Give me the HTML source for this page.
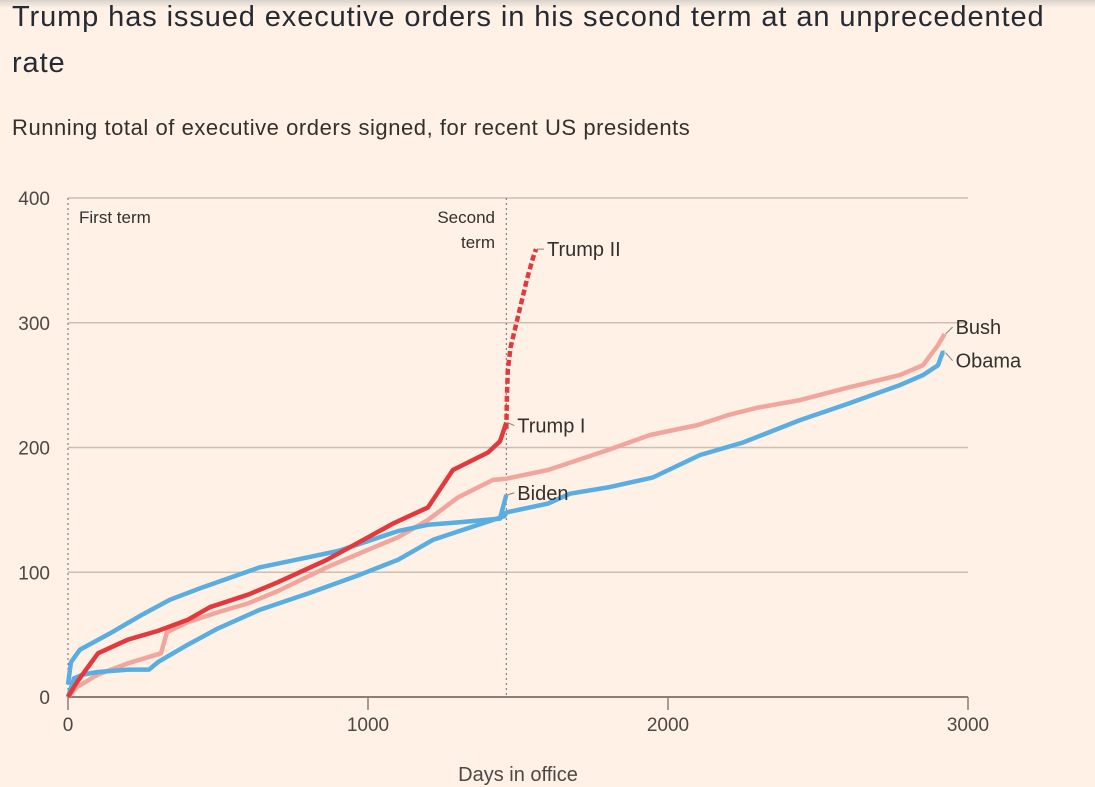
<!DOCTYPE html>
<html><head><meta charset="utf-8">
<style>
html,body{margin:0;padding:0;background:#fff1e5;width:1095px;height:787px;overflow:hidden;font-family:"Liberation Sans",sans-serif;color:#33302e}
.shadow{position:absolute;left:0;top:0;width:1095px;height:8px;background:linear-gradient(#d8d2cc,#fff1e5)}
h1{position:absolute;left:12px;top:-6px;margin:0;font-weight:normal;font-size:29px;line-height:46px;width:1080px;letter-spacing:0.9px;color:#262a33}
.sub{position:absolute;left:12px;top:115px;font-size:22px;letter-spacing:0.55px;color:#33302e}
svg{position:absolute;left:0;top:0}
</style></head><body>
<div class="shadow"></div>
<h1>Trump has issued executive orders in his second term at an unprecedented<br>rate</h1>
<div class="sub">Running total of executive orders signed, for recent US presidents</div>
<svg id="chart" width="1095" height="787"></svg>
<script>
const xTicks=[0,1000,2000,3000];
const yTicks=[0,100,200,300,400];
const trumpIDays=[0,30,100,200,300,400,473,600,700,863,1000,1083,1200,1283,1400,1440,1461];
const trumpIVals=[0,12,35,46,53,62,72,82,92,110,128,139,152,182,196,205,220];
const trumpIIDays=[1461,1463,1466,1475,1490,1510,1530,1550,1560];
const trumpIIVals=[215,240,262,280,295,315,335,352,359];
const bushDays=[0,30,100,200,310,330,400,500,600,700,863,1000,1100,1200,1300,1417,1461,1600,1700,1800,1940,2100,2200,2300,2440,2600,2773,2850,2900,2922];
const bushVals=[0,8,18,27,35,52,60,68,75,85,104,118,128,142,160,174,175,182,190,198,210,218,226,232,238,248,258,266,282,291];
const obamaDays=[0,20,50,100,200,270,300,400,500,640,800,973,1100,1217,1417,1455,1461,1600,1673,1800,1950,2107,2250,2440,2600,2773,2850,2900,2915,2922];
const obamaVals=[0,15,18,20,22,22,28,42,55,70,83,98,110,126,142,145,148,155,163,168,176,194,204,222,235,250,258,266,276,276];
const bidenDays=[0,10,40,140,240,340,450,640,760,900,1000,1100,1200,1300,1440,1461];
const bidenVals=[10,28,38,51,65,78,88,104,110,117,125,133,138,140,143,162];

const svg=document.getElementById('chart');
const NS='http://www.w3.org/2000/svg';
const X=d=>68+d*0.3;
const Y=v=>697-v*1.2475;
function mk(tag,attrs){const e=document.createElementNS(NS,tag);for(const k in attrs)e.setAttribute(k,attrs[k]);svg.appendChild(e);return e;}
function txt(s,x,y,size,anchor,fill){const t=mk('text',{x:x,y:y,'font-size':size,'text-anchor':anchor||'start',fill:fill||'#33302e','font-family':'Liberation Sans, sans-serif'});t.textContent=s;return t;}

yTicks.forEach(v=>{
  const l=mk('line',{x1:68,x2:968,y1:Y(v),y2:Y(v),stroke:v===0?'#8a7f76':'#cbbfb4','stroke-width':v===0?2:1.5});
  
  
  const t=txt(String(v),50,Y(v)+7,19,'end','#4d4845');
  
  
});
xTicks.forEach(d=>{
  const l=mk('line',{x1:X(d),x2:X(d),y1:697,y2:710,stroke:'#8a7f76','stroke-width':1.5});
  
  
  const t=txt(String(d),X(d),731,19,'middle','#4d4845');
  
  
});
const xt=txt('Days in office',518,781,20,'middle','#4d4845');



[[0,'first-term-line'],[1461,'second-term-line']].forEach(([d,n])=>{
  const l=mk('line',{x1:X(d),x2:X(d),y1:198,y2:697,stroke:'#6f6964','stroke-width':1,'stroke-dasharray':'2,3'});
  
  
});
let a=txt('First term',79,223,17);


a=txt('Second',495,223,17,'end');


a=txt('term',495,248,17,'end');



function line(days,vals,color,name,dash){
  const p=days.map((d,i)=>(i?'L':'M')+X(d).toFixed(1)+','+Y(vals[i]).toFixed(1)).join('');
  const attrs={d:p,fill:'none',stroke:color,'stroke-width':4.5,'stroke-linejoin':'round'};
  if(dash)attrs['stroke-dasharray']=dash;
  const e=mk('path',attrs);
  
  
}
line(bushDays,bushVals,'#f2a59c','bush-line');
line(obamaDays,obamaVals,'#5aade0','obama-line');
line(bidenDays,bidenVals,'#5aade0','biden-line');
line(trumpIDays,trumpIVals,'#e3393c','trump-i-line');
line(trumpIIDays,trumpIIVals,'#e3393c','trump-ii-line','6,3');

function label(s,days,vals,name,dy){
  const d=days[days.length-1],v=vals[vals.length-1];
  const x=X(d)+5,y=Y(v)+(dy||0);
  const l=mk('line',{x1:X(d)+1,x2:x+3,y1:Y(v),y2:y,stroke:'#8a7f76','stroke-width':1});
  
  
  const t=txt(s,x+6,y+7,20,'start','#33302e');
  
  
}
label('Trump II',trumpIIDays,trumpIIVals,'trump-ii',0);
label('Trump I',trumpIDays,trumpIVals,'trump-i',3);
label('Biden',bidenDays,bidenVals,'biden',-2);
label('Bush',bushDays,bushVals,'bush',-7);
label('Obama',obamaDays,obamaVals,'obama',8);
</script>
</body></html>
